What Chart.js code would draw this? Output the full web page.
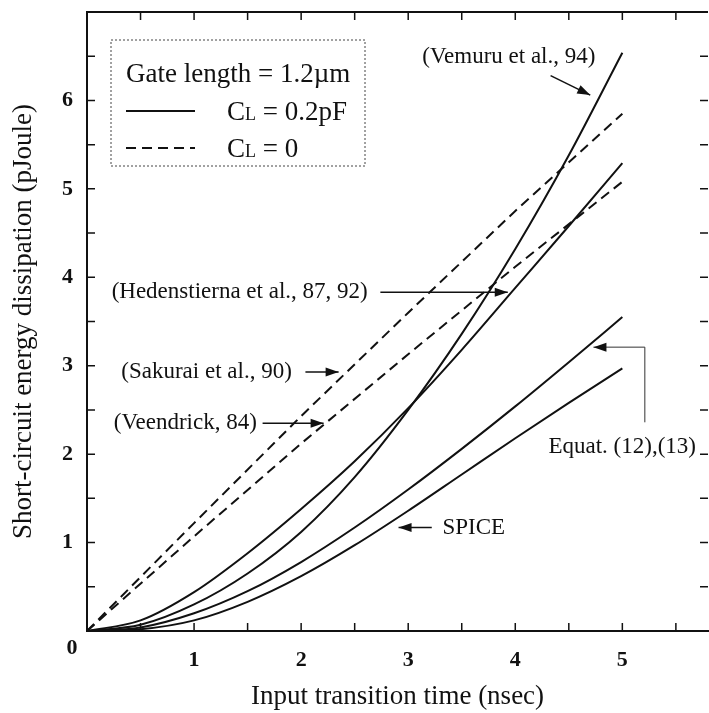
<!DOCTYPE html>
<html>
<head>
<meta charset="utf-8">
<script src="https://cdn.jsdelivr.net/npm/chart.js@4.4.1/dist/chart.umd.min.js"></script>
<style>
    body { margin: 0; background: #ffffff; }
    #graficoEnergia { display: block; }
</style>
</head>
<body>
<canvas id="graficoEnergia" width="709" height="713"></canvas>
<script>
const tempoSolidas = [0, 0.5, 1, 1.5, 2, 2.5, 3, 3.5, 4, 4.5, 5];
const vemuru = [0, 0.07, 0.30, 0.65, 1.12, 1.74, 2.50, 3.36, 4.32, 5.38, 6.54];
const hedenstierna = [0, 0.12, 0.44, 0.88, 1.38, 1.92, 2.52, 3.18, 3.88, 4.58, 5.29];
const equat = [0, 0.04, 0.20, 0.45, 0.78, 1.17, 1.60, 2.06, 2.54, 3.04, 3.55];
const spice = [0, 0.02, 0.12, 0.33, 0.62, 0.97, 1.36, 1.77, 2.18, 2.58, 2.97];

const tempoTracejadas = [0, 1, 2, 3, 4, 5];
const sakurai = [0, 1.22, 2.43, 3.60, 4.75, 5.85];
const veendrick = [0, 1.07, 2.12, 3.13, 4.12, 5.08];

const xLabels = ['1', '2', '3', '4', '5'];
const yLabels = ['1', '2', '3', '4', '5', '6'];

// texto, posicao (em valores dos eixos) e seta de cada anotacao
const anotacoes = [
    { texto: '(Vemuru et al., 94)', x: 3.94, y: 6.49, align: 'center', seta: [[4.33, 6.28], [4.70, 6.06]] },
    { texto: '(Hedenstierna et al., 87, 92)', x: 0.23, y: 3.83, align: 'left', seta: [[2.74, 3.83], [3.93, 3.83]] },
    { texto: '(Sakurai et al., 90)', x: 0.32, y: 2.93, align: 'left', seta: [[2.04, 2.93], [2.35, 2.93]] },
    { texto: '(Veendrick, 84)', x: 0.25, y: 2.35, align: 'left', seta: [[1.64, 2.35], [2.21, 2.35]] },
    { texto: 'Equat. (12),(13)', x: 4.31, y: 2.08, align: 'left', fina: true, seta: [[5.21, 2.36], [5.21, 3.21], [4.73, 3.21]] },
    { texto: 'SPICE', x: 3.32, y: 1.16, align: 'left', seta: [[3.22, 1.17], [2.91, 1.17]] }
];

const fonte = 'Liberation Serif';
const preto = '#111111';

function montarPontos(xs, ys) {
    let pontos = [];
    for (let i = 0; i < xs.length; i++) {
        pontos.push({ x: xs[i], y: ys[i] });
    }
    return pontos;
}

function serieSolida(nome, valores) {
    return {
        label: nome,
        data: montarPontos(tempoSolidas, valores),
        borderColor: preto,
        borderWidth: 2,
        pointRadius: 0,
        fill: false,
        cubicInterpolationMode: 'monotone'
    };
}

function serieTracejada(nome, valores) {
    return {
        label: nome,
        data: montarPontos(tempoTracejadas, valores),
        borderColor: preto,
        borderWidth: 2,
        borderDash: [10, 6],
        pointRadius: 0,
        fill: false,
        tension: 0
    };
}

function desenharSeta(ctx, pts, fina) {
    ctx.save();
    ctx.strokeStyle = fina ? '#333333' : preto;
    ctx.fillStyle = preto;
    ctx.lineWidth = fina ? 1 : 1.5;
    ctx.beginPath();
    ctx.moveTo(pts[0][0], pts[0][1]);
    for (let i = 1; i < pts.length; i++) {
        ctx.lineTo(pts[i][0], pts[i][1]);
    }
    ctx.stroke();

    const a = pts[pts.length - 2];
    const b = pts[pts.length - 1];
    const ang = Math.atan2(b[1] - a[1], b[0] - a[0]);
    const comp = 13, larg = 4.5;
    ctx.beginPath();
    ctx.moveTo(b[0], b[1]);
    ctx.lineTo(b[0] - comp * Math.cos(ang) + larg * Math.sin(ang), b[1] - comp * Math.sin(ang) - larg * Math.cos(ang));
    ctx.lineTo(b[0] - comp * Math.cos(ang) - larg * Math.sin(ang), b[1] - comp * Math.sin(ang) + larg * Math.cos(ang));
    ctx.closePath();
    ctx.fill();
    ctx.restore();
}

// escreve "C" com "L" em versalete e o resto do texto
function textoCL(ctx, x, y, resto) {
    ctx.font = '27px "' + fonte + '"';
    ctx.fillText('C', x, y);
    let w = ctx.measureText('C').width;
    ctx.font = '18px "' + fonte + '"';
    ctx.fillText('L', x + w, y);
    w += ctx.measureText('L').width;
    ctx.font = '27px "' + fonte + '"';
    ctx.fillText(resto, x + w, y);
}

function semSobra(scale) {
    scale.paddingTop = 0;
    scale.paddingBottom = 0;
    scale.paddingLeft = 0;
    scale.paddingRight = 0;
}

const pluginMoldura = {
    id: 'moldura',
    afterDraw(chart) {
        const ctx = chart.ctx;
        const area = chart.chartArea;
        const sx = chart.scales.x;
        const sy = chart.scales.y;

        ctx.save();
        ctx.strokeStyle = preto;

        // borda de cima
        ctx.lineWidth = 2;
        ctx.beginPath();
        ctx.moveTo(area.left, area.top);
        ctx.lineTo(area.right, area.top);
        ctx.stroke();

        // marcas para dentro
        ctx.lineWidth = 1.5;
        for (let v = 0.5; v <= 5.5; v += 0.5) {
            const p = sx.getPixelForValue(v);
            ctx.beginPath();
            ctx.moveTo(p, area.bottom);
            ctx.lineTo(p, area.bottom - 8);
            ctx.moveTo(p, area.top);
            ctx.lineTo(p, area.top + 8);
            ctx.stroke();
        }
        for (let v = 0.5; v <= 6.5; v += 0.5) {
            const p = sy.getPixelForValue(v);
            ctx.beginPath();
            ctx.moveTo(area.left, p);
            ctx.lineTo(area.left + 8, p);
            ctx.moveTo(area.right, p);
            ctx.lineTo(area.right - 8, p);
            ctx.stroke();
        }

        // zero no canto
        ctx.fillStyle = preto;
        ctx.font = 'bold 22px "' + fonte + '"';
        ctx.textAlign = 'center';
        ctx.textBaseline = 'middle';
        ctx.fillText('0', area.left - 15, area.bottom + 17);

        // caixa de legenda
        const bx = area.left + 24, by = area.top + 28, bw = 254, bh = 126;
        ctx.lineWidth = 1;
        ctx.strokeStyle = '#444444';
        ctx.setLineDash([2, 2]);
        ctx.strokeRect(bx, by, bw, bh);
        ctx.setLineDash([]);

        ctx.textAlign = 'left';
        ctx.textBaseline = 'alphabetic';
        ctx.font = '27px "' + fonte + '"';
        ctx.fillText('Gate length = 1.2\u00b5m', bx + 15, by + 42);

        ctx.strokeStyle = preto;
        ctx.lineWidth = 2;
        ctx.beginPath();
        ctx.moveTo(bx + 15, by + 71);
        ctx.lineTo(bx + 84, by + 71);
        ctx.stroke();
        textoCL(ctx, bx + 116, by + 80, ' = 0.2pF');

        ctx.setLineDash([10, 6]);
        ctx.beginPath();
        ctx.moveTo(bx + 15, by + 108);
        ctx.lineTo(bx + 84, by + 108);
        ctx.stroke();
        ctx.setLineDash([]);
        textoCL(ctx, bx + 116, by + 117, ' = 0');

        // anotacoes com setas
        ctx.textBaseline = 'middle';
        ctx.font = '23px "' + fonte + '"';
        for (let i = 0; i < anotacoes.length; i++) {
            const a = anotacoes[i];
            ctx.textAlign = a.align;
            ctx.fillText(a.texto, sx.getPixelForValue(a.x), sy.getPixelForValue(a.y));
            let pts = [];
            for (let j = 0; j < a.seta.length; j++) {
                pts.push([sx.getPixelForValue(a.seta[j][0]), sy.getPixelForValue(a.seta[j][1])]);
            }
            desenharSeta(ctx, pts, a.fina);
        }
        ctx.restore();
    }
};

const configEnergia = {
    type: 'line',
    data: {
        datasets: [
            serieSolida('Vemuru et al., 94', vemuru),
            serieSolida('Hedenstierna et al., 87, 92', hedenstierna),
            serieSolida('Equat. (12),(13)', equat),
            serieSolida('SPICE', spice),
            serieTracejada('Sakurai et al., 90', sakurai),
            serieTracejada('Veendrick, 84', veendrick)
        ]
    },
    options: {
        responsive: false,
        animation: false,
        devicePixelRatio: 1,
        layout: { padding: { left: 8, top: 12, right: 1, bottom: 0 } },
        plugins: {
            legend: { display: false },
            tooltip: { enabled: false }
        },
        scales: {
            x: {
                type: 'linear',
                min: 0,
                max: 5.8,
                afterFit: function (scale) { scale.height = 82; semSobra(scale); },
                grid: { display: true, drawOnChartArea: false, drawTicks: false },
                border: { display: true, color: preto, width: 2 },
                ticks: {
                    stepSize: 0.5,
                    padding: 16,
                    color: preto,
                    font: { family: fonte, size: 22, weight: 'bold' },
                    callback: function (v) {
                        const i = xLabels.indexOf(String(v));
                        return i >= 0 ? xLabels[i] : '';
                    }
                },
                title: {
                    display: true,
                    text: 'Input transition time (nsec)',
                    color: preto,
                    font: { family: fonte, size: 27 },
                    padding: { top: 0, bottom: 0 }
                }
            },
            y: {
                type: 'linear',
                min: 0,
                max: 7,
                afterFit: function (scale) { scale.width = 79; semSobra(scale); },
                grid: { display: true, drawOnChartArea: false, drawTicks: false },
                border: { display: true, color: preto, width: 2 },
                ticks: {
                    stepSize: 0.5,
                    padding: 14,
                    color: preto,
                    font: { family: fonte, size: 22, weight: 'bold' },
                    callback: function (v) {
                        const i = yLabels.indexOf(String(v));
                        return i >= 0 ? yLabels[i] : '';
                    }
                },
                title: {
                    display: true,
                    text: 'Short-circuit energy dissipation (pJoule)',
                    color: preto,
                    font: { family: fonte, size: 27 },
                    padding: { top: 0, bottom: 0 }
                }
            }
        }
    },
    plugins: [pluginMoldura]
};

let graficoEnergia = new Chart(
    document.getElementById('graficoEnergia'),
    configEnergia
);
</script>
</body>
</html>
